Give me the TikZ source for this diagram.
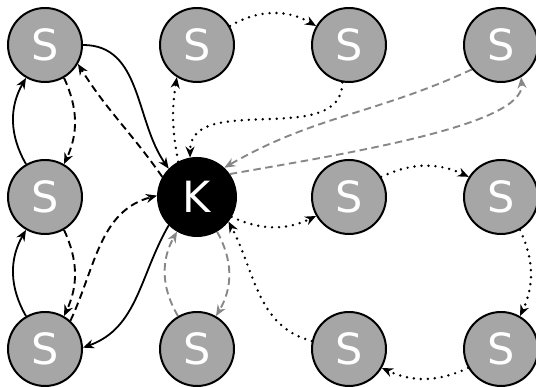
\documentclass[tikz,border=0pt]{standalone}
\usepackage{fontspec}
\usepackage{xcolor}
\usetikzlibrary{arrows.meta,positioning}
\newfontfamily\labelfont{DejaVu Sans}
\definecolor{sGray}{HTML}{A6A6A6}
\definecolor{eGray}{HTML}{878787}
\tikzset{
  >={Stealth[length=11pt,width=9pt,inset=3.5pt]},
  snode/.style ={circle,draw=black,line width=2pt,fill=sGray,
                 minimum size=74pt,inner sep=0pt,text=white,
                 font=\labelfont\fontsize{43}{43}\selectfont},
  knode/.style ={snode,fill=black,minimum size=78pt},
  solidar/.style={->,line width=1.8pt},
  dashar/.style ={->,line width=1.9pt,dash pattern=on 7.5pt off 4.5pt},
  greyar/.style ={dashar,eGray},
  dotar/.style  ={->,line width=2.7pt,line cap=round,dash pattern=on 0pt off 7pt},
}
\begin{document}
\begin{tikzpicture}[node distance=152pt,on grid]
\useasboundingbox (0,0) rectangle (536pt,387pt);
% grid of stations, key node in the middle row
\node[snode] (s11) at (45pt,342pt) {S};
\node[snode,right=of s11] (s12) {S};
\node[snode,right=of s12] (s13) {S};
\node[snode,right=of s13] (s14) {S};
\node[snode,below=of s11] (s21) {S};
\node[knode,right=of s21] (k) {K};
\node[snode,right=of k] (s23) {S};
\node[snode,right=of s23] (s24) {S};
\node[snode,below=of s21] (s31) {S};
\node[snode,right=of s31] (s32) {S};
\node[snode,right=of s32] (s33) {S};
\node[snode,right=of s33] (s34) {S};

% left column
\draw[solidar] (s11.east) to[out=0,in=125] (k.135);
\draw[dashar] (k.150) to[out=125,in=-58] (s11.-30);
\draw[dashar] (s11.-60) to[bend left=25] (s21.60);
\draw[solidar] (s21.120) to[bend left=30] (s11.240);
\draw[dashar] (s21.-60) to[bend left=25] (s31.60);
\draw[solidar] (s31.120) to[bend left=30] (s21.240);
\draw[dashar] (s31.48) to[out=65,in=195] (k.178);
\draw[solidar] (k.225) to[out=240,in=20] (s31.2);

% below the key
\draw[greyar] (s32.120) to[bend left=30] (k.240);
\draw[greyar] (k.-60) to[bend left=30] (s32.60);

% top row loop
\draw[dotar] (k.118) to[bend left=10] (s12.238);
\draw[dotar] (s12.30) to[bend left=30] (s13.150);
\draw[dotar] (s13.260) to[out=-90,in=90] (k.100);

% far corner
\draw[greyar] (s14.220) to[out=205,in=30] (k.47);
\draw[greyar] (k.35) to[out=10,in=-85,in looseness=0.4] (s14.-58);

% right block loop
\draw[dotar] (k.-30) to[bend right=25] (s23.210);
\draw[dotar] (s23.32) to[bend left=25] (s24.148);
\draw[dotar] (s24.-60) to[bend left=25] (s34.60);
\draw[dotar] (s34.210) to[bend left=25] (s33.-30);
\draw[dotar] (s33.168) to[out=165,in=-62] (k.-38);
\end{tikzpicture}
\end{document}
